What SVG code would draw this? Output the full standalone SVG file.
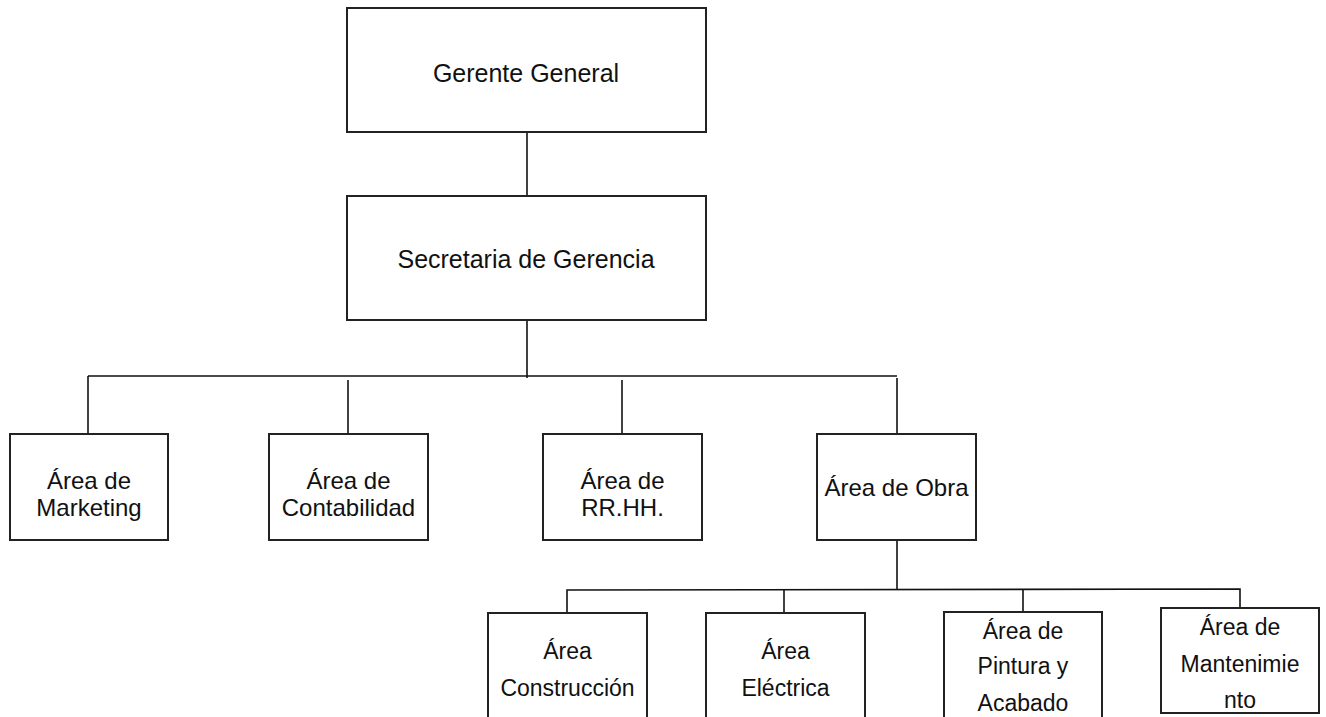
<svg xmlns="http://www.w3.org/2000/svg" width="1326" height="717" viewBox="0 0 1326 717">
<style>
.box{fill:#fff;stroke:#222;stroke-width:2}
.ln{fill:none;stroke:#111;stroke-width:1.6}
text{font-family:"Liberation Sans",Arial,sans-serif;fill:#111;text-anchor:middle}
.t1{font-size:25px}
.t2{font-size:24px}
.t3{font-size:23px}
</style>
<rect width="1326" height="717" fill="#fff"/>
<g id="connectors">
<line class="ln" x1="527" y1="132" x2="527" y2="196"/>
<line class="ln" x1="527" y1="320" x2="527" y2="378"/>
<line class="ln" x1="88" y1="376" x2="897" y2="376"/>
<line class="ln" x1="88" y1="376" x2="88" y2="434"/>
<line class="ln" x1="348" y1="380" x2="348" y2="434"/>
<line class="ln" x1="622" y1="380" x2="622" y2="434"/>
<line class="ln" x1="897" y1="378" x2="897" y2="434"/>
<line class="ln" x1="897" y1="540" x2="897" y2="590"/>
<polyline class="ln" points="567,613 567,590 1240,589 1240,608"/>
<line class="ln" x1="784" y1="590" x2="784" y2="613"/>
<line class="ln" x1="1023" y1="590" x2="1023" y2="612"/>
</g>
<g id="gerente">
<rect class="box" x="347" y="8" width="359" height="124"/>
<text class="t1" x="526" y="82">Gerente General</text>
</g>
<g id="secretaria">
<rect class="box" x="347" y="196" width="359" height="124"/>
<text class="t1" x="526" y="268">Secretaria de Gerencia</text>
</g>
<g id="marketing">
<rect class="box" x="10" y="434" width="158" height="106"/>
<text class="t2" x="89" y="489">Área de</text>
<text class="t2" x="89" y="516">Marketing</text>
</g>
<g id="contabilidad">
<rect class="box" x="269" y="434" width="159" height="106"/>
<text class="t2" x="348.5" y="489">Área de</text>
<text class="t2" x="348.5" y="516">Contabilidad</text>
</g>
<g id="rrhh">
<rect class="box" x="543" y="434" width="159" height="106"/>
<text class="t2" x="622.5" y="489">Área de</text>
<text class="t2" x="622.5" y="516">RR.HH.</text>
</g>
<g id="obra">
<rect class="box" x="817" y="434" width="159" height="106"/>
<text class="t2" x="896.5" y="496">Área de Obra</text>
</g>
<g id="construccion">
<rect class="box" x="488" y="613" width="159" height="110"/>
<text class="t3" x="567.5" y="659">Área</text>
<text class="t3" x="567.5" y="696">Construcción</text>
</g>
<g id="electrica">
<rect class="box" x="706" y="613" width="159" height="110"/>
<text class="t3" x="785.5" y="659">Área</text>
<text class="t3" x="785.5" y="696">Eléctrica</text>
</g>
<g id="pintura">
<rect class="box" x="944" y="612" width="158" height="110"/>
<text class="t3" x="1023" y="639">Área de</text>
<text class="t3" x="1023" y="674">Pintura y</text>
<text class="t3" x="1023" y="711">Acabado</text>
</g>
<g id="mantenimiento">
<rect class="box" x="1161" y="608" width="158" height="105"/>
<text class="t3" x="1240" y="635">Área de</text>
<text class="t3" x="1240" y="672">Mantenimie</text>
<text class="t3" x="1240" y="708">nto</text>
</g>
</svg>
